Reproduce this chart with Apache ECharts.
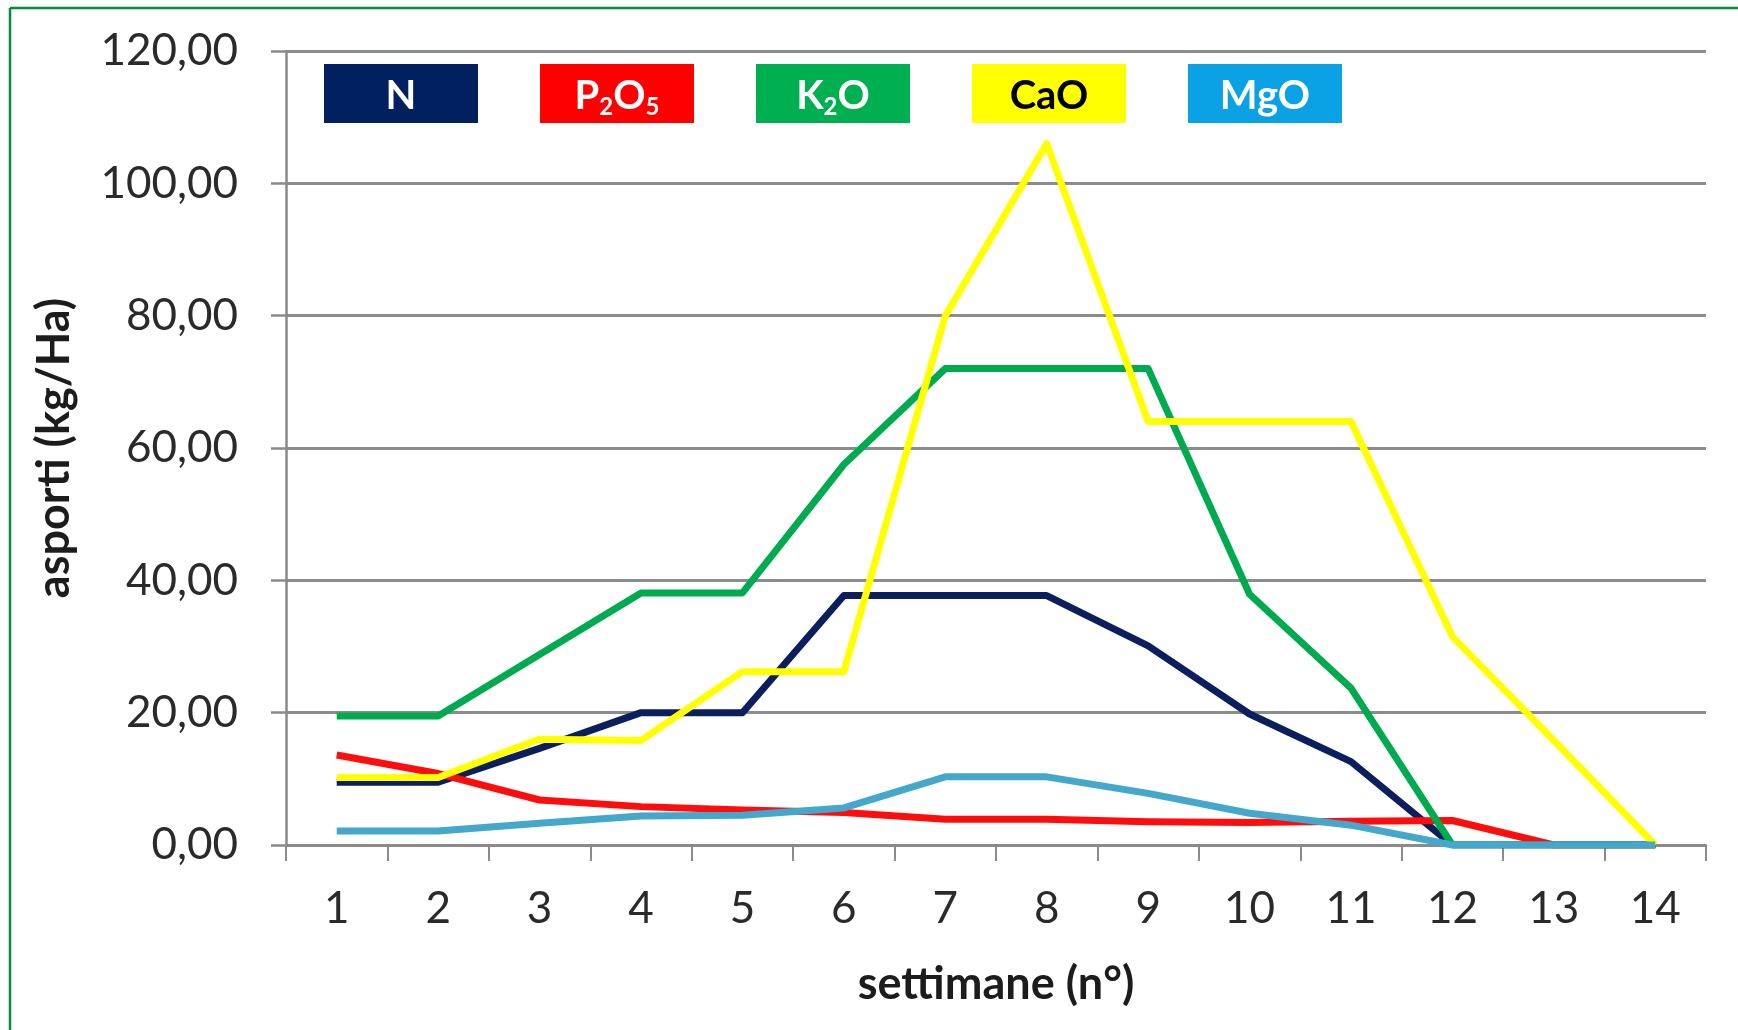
<!DOCTYPE html>
<html>
<head>
<meta charset="utf-8">
<script src="https://cdn.jsdelivr.net/npm/echarts@6/dist/echarts.min.js"></script>
<style>
  html, body { margin: 0; padding: 0; background: #ffffff; }
  #chart { width: 1738px; height: 1030px; }
</style>
</head>
<body>
<div id="chart"></div>
<script>
// Weekly nutrient uptake (kg/Ha)
const weeks = ['1', '2', '3', '4', '5', '6', '7', '8', '9', '10', '11', '12', '13', '14'];
const seriesNames = ['N', 'P₂O₅', 'K₂O', 'CaO', 'MgO'];

const nValues    = [9.5, 9.5, 14.6, 20.0, 20.0, 37.7, 37.7, 37.7, 30.1, 19.8, 12.6, 0, 0, 0];
const p2o5Values = [13.6, 10.8, 6.8, 5.8, 5.3, 4.9, 3.9, 3.9, 3.5, 3.4, 3.6, 3.7, 0, 0];
const k2oValues  = [19.5, 19.5, 28.8, 38.1, 38.1, 57.5, 72.0, 72.0, 72.0, 37.9, 23.7, 0, 0, 0];
const caoValues  = [10.2, 10.2, 16.0, 15.8, 26.2, 26.2, 80.0, 106.0, 64.0, 64.0, 64.0, 31.5, 15.8, 0];
const mgoValues  = [2.1, 2.1, 3.3, 4.4, 4.5, 5.6, 10.3, 10.3, 7.8, 4.8, 3.0, 0, 0, 0];

const yMin = 0, yMax = 120, yStep = 20;

const lineColors  = ['#0b1f5e', '#ff0c0c', '#00ab4f', '#ffff00', '#44a7cc'];
const legendFills = ['#002060', '#ff0000', '#00b050', '#ffff00', '#0aa2e4'];
const legendInk   = ['#ffffff', '#ffffff', '#ffffff', '#000000', '#ffffff'];
const seriesData  = [nValues, p2o5Values, k2oValues, caoValues, mgoValues];

const FONT = 'Lato, "Noto Sans", sans-serif';
const SUBS = '₀₁₂₃₄₅₆₇₈₉';

const chart = echarts.init(document.getElementById('chart'), null, { renderer: 'canvas' });

// turn "P₂O₅" into rich text with smaller, lowered digits
function richName(name) {
  return name.match(/[₀-₉]+|[^₀-₉]+/g).map(p => {
    if (/[₀-₉]/.test(p)) {
      const digits = p.split('').map(c => SUBS.indexOf(c)).join('');
      return '{s|' + digits + '}';
    }
    return '{m|' + p + '}';
  }).join('');
}

// colored name boxes across the top of the plot
const overlay = [];
seriesNames.forEach((name, i) => {
  const x = 324 + i * 216;
  const y = 64;
  const w = 154, h = 59;
  overlay.push({
    type: 'rect',
    shape: { x: x, y: y, width: w, height: h },
    style: { fill: legendFills[i] },
    z: 10
  });
  overlay.push({
    type: 'text',
    x: x + w / 2,
    y: y + h / 2 + 3,
    z: 11,
    style: {
      text: richName(name),
      align: 'center',
      verticalAlign: 'middle',
      rich: {
        m: { fontFamily: FONT, fontWeight: 'bold', fontSize: 40, lineHeight: 40, fill: legendInk[i] },
        s: { fontFamily: FONT, fontWeight: 'bold', fontSize: 24, height: 18, lineHeight: 18,
             verticalAlign: 'bottom', fill: legendInk[i] }
      }
    }
  });
});

// thin green frame on the top and left edges
overlay.push({
  type: 'line', shape: { x1: 10, y1: 8, x2: 1738, y2: 8 },
  style: { stroke: '#078a3e', lineWidth: 2.5 }, z: 20
});
overlay.push({
  type: 'line', shape: { x1: 10, y1: 8, x2: 10, y2: 1030 },
  style: { stroke: '#078a3e', lineWidth: 2.5 }, z: 20
});

const option = {
  backgroundColor: '#ffffff',
  animation: false,
  grid: { left: 286, right: 32, top: 51, bottom: 185, containLabel: false },
  xAxis: {
    type: 'category',
    data: weeks,
    boundaryGap: true,
    name: 'settimane (n°)',
    nameLocation: 'middle',
    nameGap: 117,
    nameTextStyle: { fontFamily: FONT, fontWeight: 'bold', fontSize: 45, color: '#1c1c1c' },
    axisLine: { show: true, lineStyle: { color: '#8a8a8a', width: 2.5 } },
    axisTick: { show: true, inside: false, length: 16, lineStyle: { color: '#8a8a8a', width: 2 } },
    axisLabel: { margin: 42, fontFamily: FONT, fontSize: 44, color: '#2a2a2a' },
    splitLine: { show: false }
  },
  yAxis: {
    type: 'value',
    min: yMin,
    max: yMax,
    interval: yStep,
    name: 'asporti (kg/Ha)',
    nameLocation: 'middle',
    nameGap: 209,
    nameTextStyle: { fontFamily: FONT, fontWeight: 'bold', fontSize: 45, color: '#1c1c1c' },
    axisLine: { show: true, lineStyle: { color: '#8a8a8a', width: 2.5 } },
    axisTick: { show: true, inside: false, length: 15, lineStyle: { color: '#8a8a8a', width: 2.5 } },
    axisLabel: {
      margin: 48,
      fontFamily: FONT, fontSize: 44, color: '#2a2a2a',
      formatter: v => v.toFixed(2).replace('.', ',')
    },
    splitLine: { show: true, lineStyle: { color: '#8c8c8c', width: 2.8 } }
  },
  series: seriesNames.map((name, i) => ({
    name: name,
    type: 'line',
    data: seriesData[i],
    symbol: 'none',
    smooth: false,
    lineStyle: { color: lineColors[i], width: 7, join: 'round' },
    itemStyle: { color: lineColors[i] },
    z: 2 + i
  })),
  graphic: overlay
};

chart.setOption(option);
</script>
</body>
</html>
